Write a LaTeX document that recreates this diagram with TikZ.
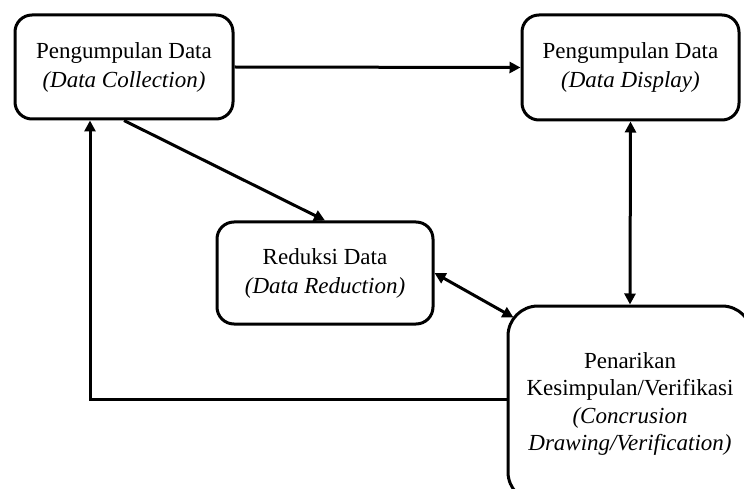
\documentclass[tikz,border=0pt]{standalone}
\usepackage{fontspec}
\setmainfont{Liberation Serif}
\usetikzlibrary{arrows.meta}
\begin{document}
\begin{tikzpicture}[x=1pt,y=-1pt,
  box/.style={draw,line width=3pt,rounded corners=17pt,align=center,
    inner sep=0pt,font=\fontsize{23}{29}\selectfont},
  conn/.style={line width=3pt},
  tip/.style={-{Triangle[length=11pt,width=11pt]}},
  tips/.style={{Triangle[length=11pt,width=11pt]}-{Triangle[length=11pt,width=11pt]}}]
\useasboundingbox (0,0) rectangle (744,489);
\clip (0,0) rectangle (744,489);
\node[box,minimum width=218pt,minimum height=104pt] (b1) at (124,67)
  {Pengumpulan Data\\\textit{(Data Collection)}};
\node[box,minimum width=217pt,minimum height=105pt] (b2) at (630.5,67.5)
  {Pengumpulan Data\\\textit{(Data Display)}};
\node[box,minimum width=216pt,minimum height=102pt] (b3) at (325,273)
  {Reduksi Data\\\textit{(Data Reduction)}};
\node[box,rounded corners=30pt,minimum width=244pt,minimum height=196pt,
  font=\fontsize{23}{27.5}\selectfont] (b4) at (630,404)
  {Penarikan\\Kesimpulan/Verifikasi\\\textit{(Concrusion}\\\textit{Drawing/Verification)}};
\draw[conn,tip] (b1.east) -- (b2.west);
\draw[conn,tip] (b1.south) -- (b3.north);
\draw[conn,tips] (b2.south) -- (b4.north);
\draw[conn,tips] (b3.east) -- ([shift={(7pt,-13pt)}]b4.north west);
\draw[conn,tip] ([yshift=5pt]b4.west) -| ([xshift=-34pt]b1.south);
\end{tikzpicture}
\end{document}
